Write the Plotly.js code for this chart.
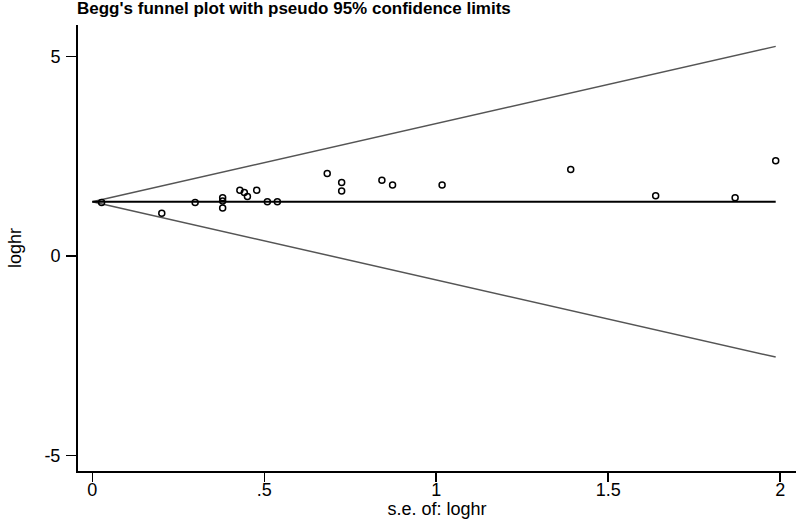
<!DOCTYPE html>
<html>
<head>
<meta charset="utf-8">
<script src="https://cdn.plot.ly/plotly-3.0.1.min.js"></script>
<style>html,body{margin:0;padding:0;background:#fff;}#chart{width:800px;height:519px;}</style>
</head>
<body>
<div id="chart"></div>
<script>
// Study standard errors (x) and log hazard ratios (y)
const seLoghr = [0.027, 0.202, 0.299, 0.379, 0.379, 0.379, 0.429, 0.442, 0.451, 0.478, 0.509, 0.538,
                 0.683, 0.725, 0.725, 0.842, 0.873, 1.017, 1.391, 1.638, 1.869, 1.987];
const loghr   = [1.34, 1.07, 1.34, 1.46, 1.38, 1.20, 1.65, 1.59, 1.49, 1.65, 1.36, 1.36,
                 2.07, 1.84, 1.63, 1.90, 1.78, 1.78, 2.17, 1.51, 1.46, 2.39];
// Pooled estimate and funnel extent
const pooled = 1.36;
const seRange = [0, 1.987];
const z95 = 1.96;
const xTickVals = [0, 0.5, 1, 1.5, 2];
const xTickText = ["0", ".5", "1", "1.5", "2"];
const yTickVals = [-5, 0, 5];
const yTickText = ["-5", "0", "5"];

const upper = seRange.map(s => pooled + z95 * s);
const lower = seRange.map(s => pooled - z95 * s);
const center = seRange.map(() => pooled);

const traces = [
  {x: seRange, y: upper, mode: 'lines', line: {color: '#555555', width: 1.5}, hoverinfo: 'skip'},
  {x: seRange, y: lower, mode: 'lines', line: {color: '#555555', width: 1.5}, hoverinfo: 'skip'},
  {x: seRange, y: center, mode: 'lines', line: {color: '#000000', width: 2}, hoverinfo: 'skip'},
  {x: seLoghr, y: loghr, mode: 'markers',
   marker: {symbol: 'circle-open', size: 6, color: '#000000', line: {width: 1.5, color: '#000000'}}}
];

const font = 'Arial, "Liberation Sans", sans-serif';
const layout = {
  width: 800, height: 519,
  showlegend: false,
  paper_bgcolor: '#ffffff', plot_bgcolor: '#ffffff',
  margin: {l: 78, r: 4, t: 25, b: 48},
  title: {text: "Begg's funnel plot with pseudo 95% confidence limits",
          font: {family: font, size: 17, color: '#000', weight: 'bold'},
          x: 77/800, xanchor: 'left', xref: 'container',
          y: 1 - 8/519, yanchor: 'middle', yref: 'container'},
  xaxis: {range: [-0.0416, 2.046], tickvals: xTickVals, ticktext: xTickText,
          showgrid: false, zeroline: false, showline: true, linecolor: '#000', linewidth: 2,
          ticks: 'outside', ticklen: 9, tickwidth: 1.5, tickcolor: '#000', ticklabelstandoff: -8,
          tickfont: {family: font, size: 18, color: '#000'},
          title: {text: 's.e. of: loghr', font: {family: font, size: 18, color: '#000'}, standoff: 0}},
  yaxis: {range: [-5.39, 5.79], tickvals: yTickVals, ticktext: yTickText,
          showgrid: false, zeroline: false, showline: true, linecolor: '#000', linewidth: 2,
          ticks: 'outside', ticklen: 10, tickwidth: 1.5, tickcolor: '#000', ticklabelstandoff: 2,
          tickfont: {family: font, size: 18, color: '#000'},
          title: {text: 'loghr', font: {family: font, size: 18, color: '#000'}, standoff: 18}}
};

Plotly.newPlot('chart', traces, layout, {displayModeBar: false, staticPlot: true});
</script>
</body>
</html>
